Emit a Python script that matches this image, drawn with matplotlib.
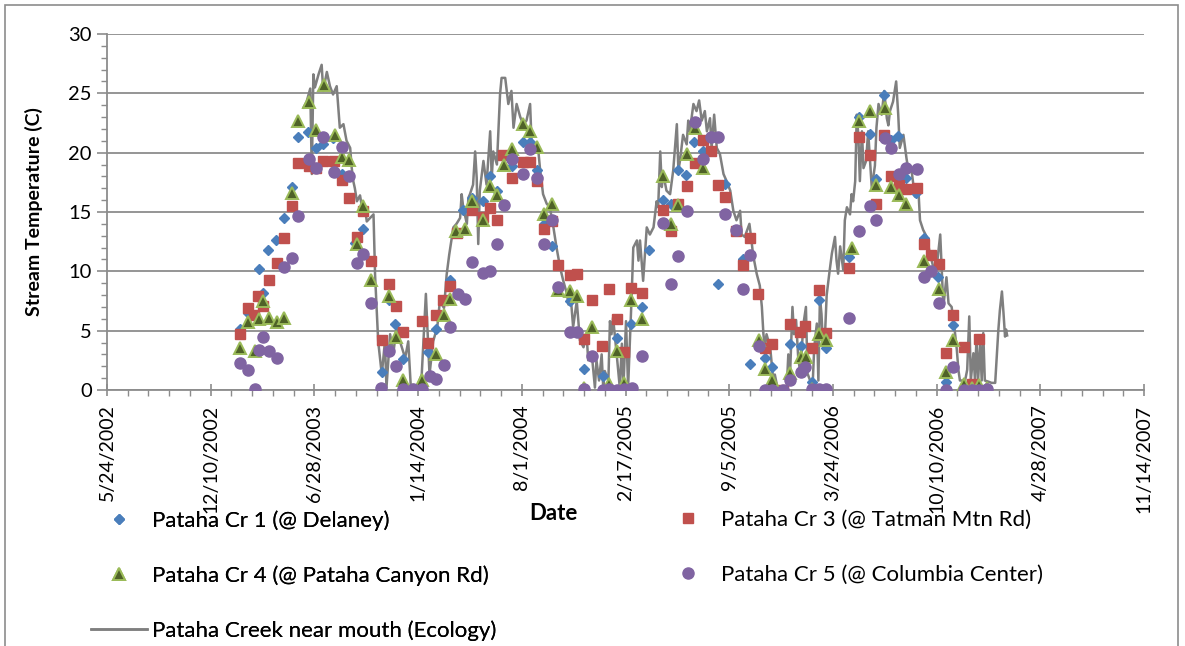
"""Pataha Creek stream temperatures, 2003-2007: spot readings at four
stations plus the continuous record near the mouth (Ecology).

Output: out.png
"""
import matplotlib.pyplot as plt
import matplotlib.dates as mdates
from matplotlib.patches import Rectangle
from matplotlib.ticker import FixedLocator, FuncFormatter, MultipleLocator
import pandas as pd

plt.rcParams["font.family"] = ["Lato", "DejaVu Sans"]

GRID = "#8c8c8c"
BLUE = "#4a7ebb"
RED = "#c0504d"
GREEN_FILL = "#4f6228"
GREEN_EDGE = "#9bbb59"
PURPLE = "#8064a2"
LINE = "#7f7f7f"

# dates are spreadsheet serial numbers (days since 1899-12-30)
cr1_date = [37657, 37671, 37694, 37700, 37711, 37726, 37741, 37756, 37768, 37788,
            37803, 37817, 37836, 37853, 37878, 37894, 37930, 37944, 37956, 37971,
            38020, 38035, 38062, 38087, 38104, 38125, 38139, 38152, 38181, 38202,
            38216, 38229, 38243, 38258, 38292, 38320, 38356, 38383, 38411, 38431,
            38446, 38473, 38487, 38502, 38517, 38533, 38550, 38578, 38592, 38626,
            38640, 38669, 38683, 38717, 38738, 38759, 38773, 38786, 38832, 38850,
            38871, 38884, 38899, 38913, 38926, 38941, 38960, 38976, 39003, 39018,
            39032]
cr1_temp = [5.1, 6.5, 10.2, 8.2, 11.8, 12.6, 14.5, 17.1, 21.3, 21.7,
            20.4, 20.7, 21.2, 18.2, 12.4, 13.6, 1.5, 7.6, 5.6, 2.6,
            3.2, 5.1, 9.3, 15.2, 16.2, 15.9, 18.0, 16.8, 18.9, 20.9,
            20.9, 18.5, 14.0, 12.1, 7.5, 1.8, 1.2, 4.4, 5.6, 7.0,
            11.8, 16.0, 15.7, 18.5, 18.1, 20.9, 20.1, 8.9, 17.4, 11.0,
            2.2, 2.7, 1.9, 3.9, 3.7, 0.7, 7.6, 3.5, 11.2, 23.0,
            21.6, 17.8, 24.9, 21.1, 21.4, 17.9, 16.6, 12.8, 9.5, 0.7,
            5.5]

cr3_date = [37657, 37671, 37684, 37692, 37700, 37713, 37727, 37741, 37756, 37769,
            37790, 37803, 37817, 37838, 37853, 37867, 37882, 37894, 37909, 37930,
            37944, 37957, 37971, 38007, 38020, 38034, 38048, 38062, 38075, 38103,
            38125, 38139, 38152, 38164, 38181, 38202, 38216, 38229, 38243, 38258,
            38270, 38292, 38306, 38320, 38335, 38354, 38369, 38383, 38398, 38411,
            38431, 38473, 38487, 38502, 38518, 38534, 38550, 38564, 38578, 38592,
            38613, 38627, 38640, 38656, 38669, 38683, 38704, 38717, 38737, 38746,
            38759, 38773, 38786, 38832, 38850, 38871, 38884, 38899, 38913, 38927,
            38941, 38962, 38976, 38990, 39005, 39018, 39032, 39053, 39068, 39082]
cr3_temp = [4.7, 6.9, 6.3, 7.9, 7.1, 9.3, 10.7, 12.8, 15.5, 19.1,
            18.9, 18.7, 19.3, 19.3, 17.7, 16.2, 12.9, 15.1, 10.9, 4.2,
            8.9, 7.1, 4.9, 5.8, 4.0, 6.3, 7.6, 8.8, 13.2, 15.2,
            14.6, 15.3, 14.3, 19.8, 17.9, 19.2, 19.2, 17.6, 13.6, 14.2,
            10.5, 9.7, 9.8, 4.3, 7.6, 3.7, 8.5, 6.0, 3.2, 8.6,
            8.2, 15.2, 13.4, 15.7, 17.2, 19.1, 21.1, 20.1, 17.3, 16.3,
            13.4, 10.5, 12.8, 8.1, 3.5, 3.9, 0.0, 5.6, 4.9, 5.4,
            3.5, 8.4, 4.8, 10.3, 21.3, 19.8, 15.7, 21.5, 18.0, 17.3,
            16.9, 17.0, 12.3, 11.4, 10.6, 3.1, 6.3, 3.6, 0.5, 4.3]

cr4_date = [37657, 37671, 37685, 37694, 37700, 37713, 37727, 37742, 37756, 37769,
            37790, 37804, 37818, 37840, 37853, 37867, 37883, 37894, 37909, 37944,
            37957, 37971, 37990, 38007, 38035, 38049, 38062, 38074, 38090, 38103,
            38125, 38139, 38152, 38166, 38181, 38202, 38216, 38229, 38243, 38258,
            38270, 38292, 38306, 38320, 38335, 38369, 38383, 38398, 38411, 38431,
            38473, 38487, 38502, 38518, 38534, 38550, 38657, 38669, 38683, 38717,
            38738, 38748, 38759, 38773, 38786, 38836, 38850, 38871, 38884, 38900,
            38913, 38927, 38941, 38976, 39005, 39018, 39032, 39053, 39068, 39082,
            39097]
cr4_temp = [3.5, 5.7, 3.3, 6.0, 7.5, 6.1, 5.7, 6.1, 16.6, 22.7,
            24.3, 21.9, 25.7, 21.5, 19.6, 19.4, 12.3, 15.5, 9.3, 7.9,
            4.5, 0.8, 0.0, 0.8, 3.0, 6.3, 7.7, 13.4, 13.6, 15.9,
            14.3, 17.2, 16.4, 19.0, 20.3, 22.4, 21.8, 20.5, 14.8, 15.7,
            8.4, 8.3, 7.9, 0.2, 5.3, 0.5, 3.3, 0.6, 7.6, 6.0,
            18.0, 14.0, 15.6, 19.9, 22.1, 18.7, 4.2, 1.8, 0.8, 1.4,
            2.8, 2.8, 0.1, 4.7, 4.2, 12.0, 22.7, 23.5, 17.3, 23.8,
            17.1, 16.4, 15.7, 10.9, 8.5, 1.5, 4.2, 0.5, 0.2, 0.4,
            0.2]

cr5_date = [37657, 37671, 37685, 37694, 37700, 37713, 37727, 37741, 37756, 37769,
            37790, 37804, 37817, 37838, 37853, 37867, 37883, 37894, 37909, 37928,
            37943, 37957, 37971, 37991, 38007, 38022, 38035, 38049, 38062, 38076,
            38090, 38103, 38126, 38139, 38152, 38166, 38181, 38202, 38216, 38229,
            38243, 38258, 38270, 38292, 38306, 38320, 38335, 38356, 38369, 38383,
            38398, 38412, 38431, 38473, 38487, 38502, 38518, 38534, 38550, 38564,
            38579, 38592, 38613, 38627, 38640, 38657, 38669, 38683, 38704, 38717,
            38738, 38746, 38759, 38773, 38786, 38832, 38850, 38871, 38884, 38900,
            38913, 38927, 38941, 38962, 38976, 38989, 39005, 39018, 39032, 39053,
            39068, 39082, 39097]
cr5_temp = [2.3, 1.7, 0.1, 3.4, 4.5, 3.3, 2.7, 10.4, 11.1, 14.7,
            19.5, 18.7, 21.3, 18.4, 20.5, 18.0, 10.7, 11.5, 7.3, 0.2,
            3.3, 2.0, 0.1, 0.1, 0.1, 1.2, 0.9, 2.1, 5.3, 8.1,
            7.7, 10.8, 9.9, 10.0, 12.3, 15.6, 19.5, 18.2, 20.3, 17.9,
            12.3, 14.3, 8.7, 4.9, 4.9, 0.1, 2.9, 0.0, 0.1, 0.0,
            0.1, 0.2, 2.9, 14.1, 8.9, 11.3, 15.1, 22.6, 19.5, 21.3,
            21.3, 14.8, 13.5, 8.5, 11.4, 3.7, 0.0, 0.0, 0.0, 0.8,
            1.5, 1.9, 0.1, 0.1, 0.1, 6.1, 13.4, 15.5, 14.3, 21.2,
            20.4, 18.2, 18.7, 18.6, 9.5, 10.0, 7.3, 0.0, 1.9, 0.0,
            0.0, 0.0, 0.1]

mouth_date = [37779, 37785, 37792, 37795, 37798, 37801, 37808, 37814, 37817, 37824,
              37830, 37836, 37843, 37849, 37856, 37862, 37869, 37872, 37875, 37878,
              37882, 37888, 37894, 37898, 37901, 37914, 37917, 37923, 37930, 37936,
              37939, 37946, 37952, 37959, 37965, 37975, 37981, 37986, 37997, 38007,
              38015, 38022, 38029, 38037, 38042, 38050, 38055, 38060, 38068, 38074,
              38081, 38084, 38087, 38094, 38097, 38100, 38106, 38110, 38113, 38116,
              38119, 38126, 38132, 38139, 38142, 38145, 38152, 38158, 38161, 38168,
              38171, 38174, 38180, 38184, 38190, 38197, 38203, 38209, 38216, 38219,
              38225, 38232, 38235, 38241, 38248, 38254, 38261, 38267, 38274, 38280,
              38287, 38290, 38293, 38299, 38306, 38312, 38319, 38325, 38328, 38335,
              38338, 38341, 38344, 38349, 38354, 38357, 38360, 38367, 38370, 38373,
              38376, 38383, 38389, 38393, 38396, 38401, 38405, 38412, 38415, 38422,
              38425, 38428, 38434, 38441, 38447, 38454, 38460, 38463, 38467, 38470,
              38473, 38479, 38486, 38492, 38499, 38502, 38505, 38511, 38518, 38521,
              38524, 38531, 38537, 38542, 38547, 38553, 38557, 38563, 38566, 38571,
              38576, 38582, 38589, 38595, 38602, 38608, 38614, 38621, 38624, 38630,
              38639, 38643, 38646, 38653, 38659, 38663, 38666, 38669, 38672, 38679,
              38682, 38685, 38688, 38693, 38698, 38704, 38711, 38714, 38717, 38722,
              38725, 38729, 38733, 38737, 38743, 38748, 38751, 38756, 38761, 38764,
              38769, 38772, 38775, 38778, 38781, 38785, 38788, 38793, 38798, 38804,
              38807, 38810, 38814, 38820, 38823, 38827, 38833, 38836, 38839, 38843,
              38846, 38849, 38852, 38856, 38859, 38864, 38868, 38875, 38881, 38884,
              38888, 38894, 38899, 38904, 38907, 38910, 38916, 38922, 38926, 38929,
              38936, 38942, 38945, 38952, 38958, 38965, 38968, 38974, 38981, 38987,
              38994, 39000, 39007, 39010, 39013, 39019, 39023, 39029, 39035, 39039,
              39042, 39045, 39055, 39059, 39063, 39066, 39071, 39074, 39077, 39080,
              39084, 39087, 39090, 39093, 39100, 39106, 39113, 39116, 39119, 39122,
              39126, 39129, 39132, 39134, 39136]
mouth_temp = [23.8, 24.3, 25.4, 18.2, 26.6, 25.5, 26.6, 27.4, 25.2, 26.8,
              25.6, 24.9, 25.6, 22.1, 22.4, 21.0, 20.4, 18.7, 17.6, 17.0,
              15.9, 16.4, 14.8, 15.2, 14.2, 14.8, 9.7, 4.1, 1.3, 4.1,
              0.2, 4.7, 3.0, 5.5, 4.1, 2.7, 4.1, 0.2, 0.2, 1.3,
              8.1, 1.3, 4.1, 5.3, 7.5, 6.9, 9.7, 11.4, 13.7, 14.0,
              14.5, 16.5, 15.4, 14.0, 16.2, 16.5, 17.3, 20.1, 17.9, 12.3,
              16.8, 19.3, 17.3, 21.8, 17.9, 20.1, 19.0, 24.9, 26.3, 26.3,
              25.2, 24.1, 25.2, 22.1, 24.1, 23.0, 22.4, 22.7, 24.1, 20.7,
              20.4, 20.1, 18.7, 16.5, 15.7, 15.4, 13.7, 12.0, 10.3, 9.2,
              8.1, 7.2, 8.6, 5.3, 7.5, 4.2, 3.6, 4.7, 2.5, 3.0,
              1.6, 0.2, 2.5, 0.8, 3.0, 0.2, 1.6, 0.8, 5.8, 4.7,
              6.1, 3.0, 0.2, 3.9, 0.2, 5.8, 0.2, 8.1, 12.0, 12.6,
              10.9, 12.6, 9.2, 13.7, 13.1, 13.7, 15.9, 15.4, 20.1, 17.1,
              18.2, 16.8, 16.5, 18.5, 22.4, 18.5, 19.3, 21.5, 20.7, 22.7,
              21.8, 24.1, 23.5, 24.4, 22.7, 23.5, 21.8, 22.9, 20.4, 23.2,
              20.4, 19.9, 18.2, 17.6, 16.8, 15.1, 14.3, 15.1, 13.1, 12.9,
              14.0, 12.6, 11.4, 9.8, 8.8, 7.0, 4.7, 3.6, 4.7, 3.6,
              2.2, 0.8, 1.3, 0.2, 0.0, 0.0, 0.2, 3.0, 0.8, 7.0,
              4.7, 5.9, 2.8, 1.4, 5.5, 7.0, 1.4, 0.8, 0.5, 3.6,
              5.6, 0.8, 7.8, 6.4, 3.6, 4.9, 8.0, 9.8, 11.5, 12.9,
              10.9, 9.8, 12.1, 10.1, 14.3, 15.4, 14.8, 16.5, 15.9, 17.6,
              23.2, 21.5, 17.6, 21.8, 18.7, 19.3, 21.8, 17.0, 18.9, 22.1,
              24.1, 23.2, 25.2, 22.9, 22.3, 23.5, 24.3, 26.0, 23.2, 20.4,
              21.5, 19.5, 18.7, 18.4, 16.3, 16.8, 14.3, 13.5, 12.9, 11.5,
              10.3, 10.3, 13.1, 10.1, 7.0, 9.5, 7.3, 7.0, 5.0, 3.4,
              1.7, 0.8, 0.8, 1.7, 6.2, 0.8, 3.1, 0.8, 4.5, 0.8,
              3.9, 0.8, 4.8, 0.8, 0.7, 0.6, 0.6, 2.8, 5.0, 6.7,
              8.3, 6.5, 4.5, 5.1, 4.6]

labels = ["Pataha Cr 1 (@ Delaney)", "Pataha Cr 3 (@ Tatman Mtn Rd)",
          "Pataha Cr 4 (@ Pataha Canyon Rd)", "Pataha Cr 5 (@ Columbia Center)",
          "Pataha Creek near mouth (Ecology)"]

x_start, x_end = "2002-05-24", "2007-11-14"


def as_dates(serials):
    return pd.to_datetime(serials, unit="D", origin="1899-12-30")


def date_label(x, pos):
    d = mdates.num2date(x)
    return f"{d.month}/{d.day}/{d.year}"


fig = plt.figure(figsize=(11.85, 6.46), dpi=100)
ax = fig.add_axes([0.0903, 0.3963, 0.8751, 0.5511])

line, = ax.plot(as_dates(mouth_date), mouth_temp, color=LINE, lw=1.8, zorder=2)
s1, = ax.plot(as_dates(cr1_date), cr1_temp, ls="none", marker="D", ms=5.5,
              mfc=BLUE, mec=BLUE, zorder=3)
s3, = ax.plot(as_dates(cr3_date), cr3_temp, ls="none", marker="s", ms=7.8,
              mfc=RED, mec=RED, zorder=4)
s4, = ax.plot(as_dates(cr4_date), cr4_temp, ls="none", marker="^", ms=9,
              mfc=GREEN_FILL, mec=GREEN_EDGE, mew=1.4, zorder=5)
s5, = ax.plot(as_dates(cr5_date), cr5_temp, ls="none", marker="o", ms=8,
              mfc=PURPLE, mec=PURPLE, zorder=6)

# axes: 200-day major ticks starting at the left edge, like the spreadsheet
ax.set_xlim(pd.Timestamp(x_start), pd.Timestamp(x_end))
ax.set_ylim(0, 30)
major = mdates.date2num(pd.date_range(x_start, x_end, freq="200D"))
minor = mdates.date2num(pd.date_range(x_start, x_end, freq="40D"))
ax.xaxis.set_major_locator(FixedLocator(major))
ax.xaxis.set_minor_locator(FixedLocator(minor))
ax.xaxis.set_major_formatter(FuncFormatter(date_label))
ax.yaxis.set_major_locator(MultipleLocator(5))
ax.yaxis.set_minor_locator(MultipleLocator(1))

ax.grid(axis="y", which="major", color=GRID, lw=1.3)
ax.set_axisbelow(True)
for side in ("top", "right"):
    ax.spines[side].set_visible(False)
for side in ("left", "bottom"):
    ax.spines[side].set_color(GRID)
    ax.spines[side].set_linewidth(1.3)

ax.tick_params(axis="x", which="major", direction="inout", length=9, color=GRID,
               width=1.2, labelsize=14, labelrotation=90, pad=6)
ax.tick_params(axis="x", which="minor", direction="out", length=4, color=GRID, width=1)
ax.tick_params(axis="y", which="major", direction="out", length=7, color=GRID,
               width=1.2, labelsize=14.5, pad=4)
ax.tick_params(axis="y", which="minor", direction="out", length=4, color=GRID, width=1)
for t in ax.get_xticklabels():
    t.set_verticalalignment("top")

ax.set_ylabel("Stream Temperature (C)", fontsize=14, fontweight="bold", labelpad=18)
fig.text(553 / 1185, 1 - 513 / 646, "Date", fontsize=16, fontweight="bold",
         ha="center", va="center")

# two-column legend, built as two stacked legends for exact placement
leg_kw = dict(frameon=False, fontsize=16, handlelength=2.5, handletextpad=0.25,
              labelspacing=1.55, borderaxespad=0, borderpad=0)
leg1 = fig.legend([s1, s4, line], [labels[0], labels[2], labels[4]],
                  loc="upper left", bbox_to_anchor=(91 / 1185, 1 - 510 / 646), **leg_kw)
fig.legend([s3, s5], [labels[1], labels[3]],
           loc="upper left", bbox_to_anchor=(660 / 1185, 1 - 510 / 646), **leg_kw)
fig.add_artist(leg1)

# chart-area frame (runs off the bottom edge)
fig.add_artist(Rectangle((5 / 1185, -0.05), 1173 / 1185, 1.05 - 5 / 646,
                         transform=fig.transFigure, fill=False, ec=GRID, lw=1.2))

fig.savefig("out.png", dpi=100, facecolor="white")
